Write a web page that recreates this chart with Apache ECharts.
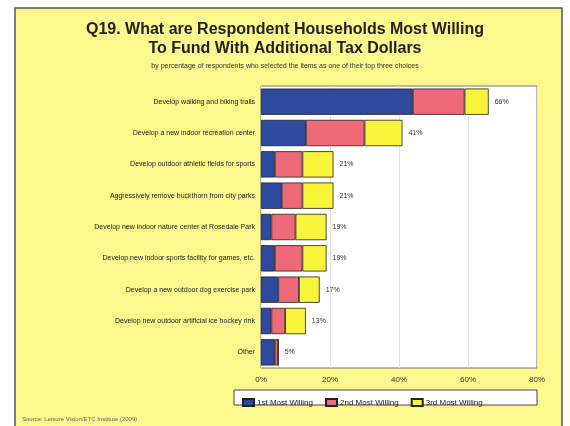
<!DOCTYPE html>
<html><head><meta charset="utf-8">
<script src="https://cdn.jsdelivr.net/npm/echarts@6/dist/echarts.min.js"></script>
<style>html,body{margin:0;padding:0;background:#fff}#c{width:570px;height:426px}</style>
</head><body><div id="c"></div>
<script>
const categories = [
  "Develop walking and biking trails",
  "Develop a new indoor recreation center",
  "Develop outdoor athletic fields for sports",
  "Aggressively remove buckthorn from city parks",
  "Develop new indoor nature center at Rosedale Park",
  "Develop new indoor sports facility for games, etc.",
  "Develop a new outdoor dog exercise park",
  "Develop new outdoor artificial ice hockey rink",
  "Other"
];
const firstMost = [44, 13, 4, 6, 3, 4, 5, 3, 4];
const secondMost = [15, 17, 8, 6, 7, 8, 6, 4, 1];
const thirdMost = [7, 11, 9, 9, 9, 7, 6, 6, 0];
const totals = [66, 41, 21, 21, 19, 19, 17, 13, 5];
const seriesNames = ["1st Most Willing", "2nd Most Willing", "3rd Most Willing"];
const tickValues = [0, 20, 40, 60, 80];

const chart = echarts.init(document.getElementById('c'));
const barStyle = c => ({color: c, borderColor: '#222', borderWidth: 0.8});
chart.setOption({
  backgroundColor: '#fff',
  animation: false,
  graphic: [
    {type: 'rect', z: -10, shape: {x: 15, y: 8, width: 547, height: 430},
     style: {fill: '#FBF88E', stroke: '#555', lineWidth: 1.5}},
    {type: 'text', left: 'center', top: 20, style: {text: 'Q19. What are Respondent Households Most Willing\nTo Fund With Additional Tax Dollars',
      font: 'bold 16px "Liberation Sans", Arial', fill: '#222', textAlign: 'center', lineHeight: 19}},
    {type: 'text', left: 'center', top: 63, style: {text: 'by percentage of respondents who selected the items as one of their top three choices',
      font: '7px "Liberation Sans", Arial', fill: '#333', textAlign: 'center'}},
    {type: 'rect', shape: {x: 234, y: 390, width: 303, height: 15}, z: -1,
     style: {fill: '#fff', stroke: '#444', lineWidth: 1}},
    {type: 'text', left: 22, top: 416, style: {text: 'Source: Leisure Vision/ETC Institute (2009)',
      font: '6px "Liberation Sans", Arial', fill: '#666'}}
  ],
  legend: {
    data: seriesNames, left: 237, top: 393, itemWidth: 11, itemHeight: 7, itemGap: 12, icon: 'rect',
    textStyle: {fontSize: 8, color: '#222', fontFamily: 'Liberation Sans', padding: [0, 0, 0, -2]}
  },
  grid: {left: 261, right: 33, top: 86, bottom: 58, backgroundColor: '#fff', show: true, borderColor: '#777', borderWidth: 1},
  xAxis: {
    type: 'value', min: tickValues[0], max: tickValues[tickValues.length - 1], interval: 20,
    axisLabel: {formatter: '{value}%', fontSize: 8, color: '#333', margin: 8},
    axisLine: {show: false}, axisTick: {show: false},
    splitLine: {lineStyle: {color: '#e4e4e4'}}
  },
  yAxis: {
    type: 'category', data: categories, inverse: true,
    axisLabel: {fontSize: 7, color: '#222', margin: 6},
    axisLine: {show: false}, axisTick: {show: false}
  },
  series: [
    {name: seriesNames[0], type: 'bar', stack: 't', data: firstMost, barCategoryGap: '16%', itemStyle: barStyle('#2E4A9E')},
    {name: seriesNames[1], type: 'bar', stack: 't', data: secondMost, itemStyle: barStyle('#EE6A78')},
    {name: seriesNames[2], type: 'bar', stack: 't', data: thirdMost, itemStyle: barStyle('#F7F43A'),
     label: {show: true, position: 'right', fontSize: 7, color: '#333', distance: 6,
       formatter: p => totals[p.dataIndex] + '%'}}
  ]
});
</script></body></html>
